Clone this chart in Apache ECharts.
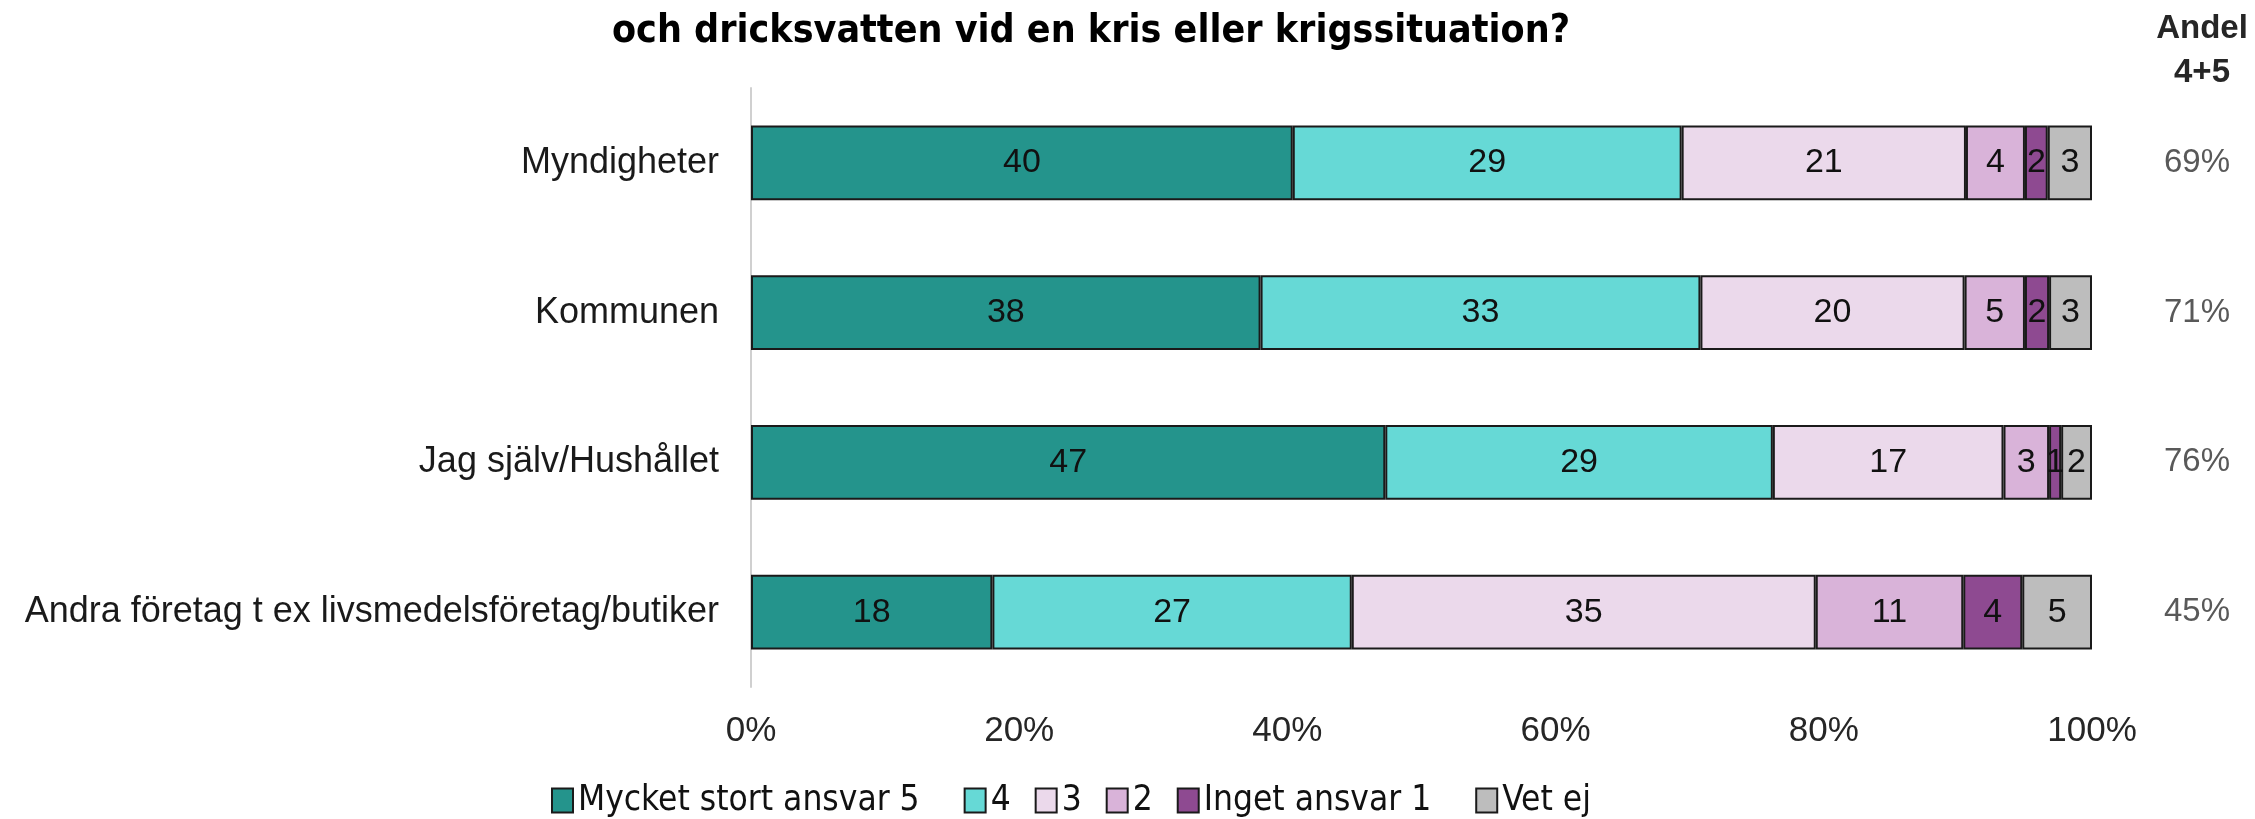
<!DOCTYPE html>
<html>
<head>
<meta charset="utf-8">
<script src="https://cdn.jsdelivr.net/npm/echarts@6/dist/echarts.min.js"></script>
<style>
  html, body { margin: 0; padding: 0; background: #fff; }
  #main { width: 2255px; height: 819px; }
</style>
</head>
<body>
<div id="main"></div>
<script>
// kategorier (uppifrån och ner)
var categories = ['Myndigheter', 'Kommunen', 'Jag själv/Hushållet', 'Andra företag t ex livsmedelsföretag/butiker'];
// andelar i procent
var s5 = [40.4, 38.0, 47.3, 18.0];
var s4 = [29.0, 32.8, 28.9, 26.8];
var s3 = [21.2, 19.7, 17.2, 34.6];
var s2 = [4.4, 4.5, 3.4, 11.0];
var s1 = [1.7, 1.8, 0.9, 4.4];
var vetEj = [3.3, 3.2, 2.3, 5.2];
var andel45 = ['69%', '71%', '76%', '45%'];
var xTicks = [0, 20, 40, 60, 80, 100];

var names = ['Mycket stort ansvar 5', '4', '3', '2', 'Inget ansvar 1', 'Vet ej'];
var colors = ['#24948C', '#66D9D6', '#EBD9EB', '#D9B3D9', '#8E4A91', '#BDBDBD'];
var seriesData = [s5, s4, s3, s2, s1, vetEj];

var font = 'Liberation Sans, Arial, sans-serif';
var narrow = 'Liberation Sans Narrow, DejaVu Sans Condensed, Arial Narrow, sans-serif';

var myChart = echarts.init(document.getElementById('main'));

var series = seriesData.map(function (d, i) {
    return {
        name: names[i],
        type: 'bar',
        stack: 'tot',
        barWidth: '50%',
        data: d,
        itemStyle: { color: colors[i], borderColor: '#1a1a1a', borderWidth: 2 },
        label: {
            show: true,
            position: 'inside',
            color: '#111',
            fontFamily: font,
            fontSize: 34,
            formatter: function (p) { return Math.round(p.value); }
        }
    };
});

myChart.setOption({
    animation: false,
    title: [{
        text: 'och dricksvatten vid en kris eller krigssituation?',
        left: 1086,
        top: 7,
        textAlign: 'center',
        textStyle: { fontFamily: narrow, fontWeight: 'bold', fontSize: 39, color: '#000' }
    }, {
        text: 'Andel\n4+5',
        left: 2197,
        top: 2,
        textAlign: 'center',
        textStyle: { fontFamily: font, fontWeight: 'bold', fontSize: 33, lineHeight: 44, color: '#262626' }
    }],
    legend: {
        left: 546,
        top: 778,
        itemWidth: 21,
        itemHeight: 24,
        itemGap: 24,
        icon: 'rect',
        itemStyle: { borderColor: '#1a1a1a', borderWidth: 2 },
        textStyle: { fontFamily: narrow, fontSize: 35, color: '#111' },
        formatter: function (n) { return n.length > 6 ? n + '  ' : n; },
        data: names
    },
    grid: { left: 751, right: 163, top: 88, bottom: 132 },
    xAxis: {
        type: 'value',
        min: xTicks[0],
        max: xTicks[xTicks.length - 1],
        interval: xTicks[1] - xTicks[0],
        axisLine: { show: false },
        axisTick: { show: false },
        splitLine: { show: false },
        axisLabel: {
            margin: 27,
            fontFamily: font,
            fontSize: 35,
            color: '#262626',
            formatter: '{value}%'
        }
    },
    yAxis: [{
        type: 'category',
        inverse: true,
        data: categories,
        axisLine: { show: true, lineStyle: { color: '#d0d0d0', width: 2 } },
        axisTick: { show: false },
        axisLabel: { margin: 32, fontFamily: font, fontSize: 36, color: '#1a1a1a' }
    }, {
        type: 'category',
        inverse: true,
        position: 'right',
        data: andel45,
        axisLine: { show: false },
        axisTick: { show: false },
        axisLabel: { margin: 105, align: 'center', fontFamily: font, fontSize: 33, color: '#595959' }
    }],
    series: series
});
</script>
</body>
</html>
